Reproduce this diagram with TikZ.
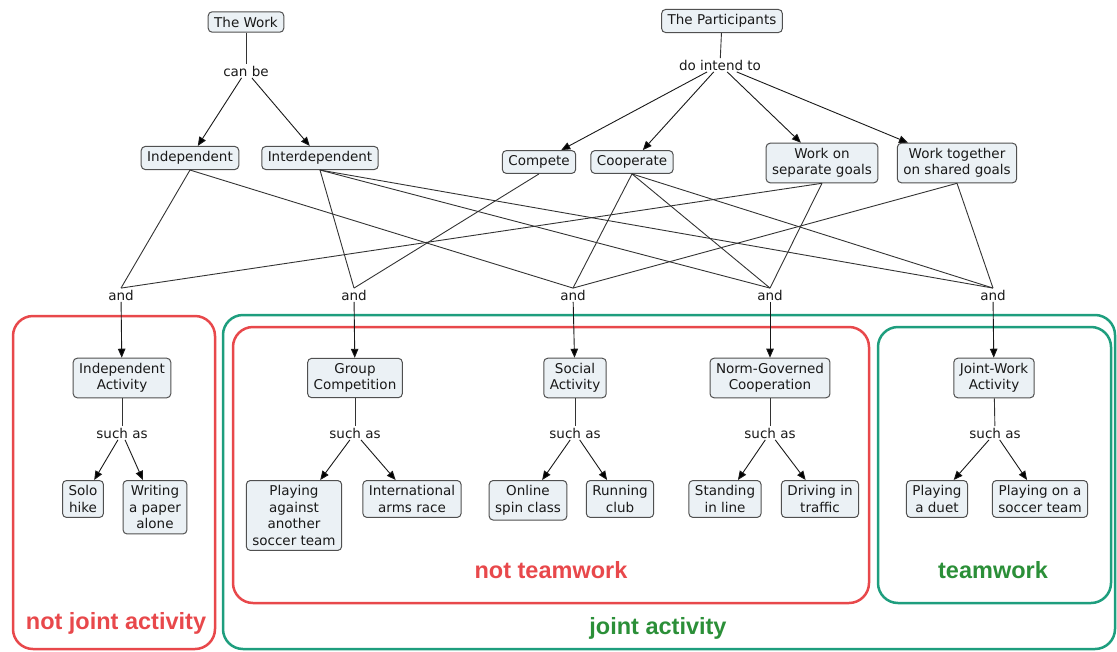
\documentclass[tikz,border=0pt]{standalone}
\usepackage{fontspec}
\setmainfont{DejaVu Sans}
\newfontfamily\labelfont{Liberation Sans}
\usepackage{xcolor}
\usepackage{tikz}
\usetikzlibrary{arrows, arrows.meta}
\definecolor{cmapred}{HTML}{E8484B}
\definecolor{cmapteal}{HTML}{1E9E7E}
\definecolor{cmapgreen}{HTML}{2B8F38}
\definecolor{conceptfill}{HTML}{EBF1F5}
\definecolor{conceptline}{HTML}{505050}

\begin{document}
\begin{tikzpicture}[x=1pt, y=-1pt]
\tikzstyle{concept}=[draw=conceptline, fill=conceptfill, rounded corners=4pt, align=center, inner xsep=6pt, inner ysep=5pt, font=\fontsize{13.5}{16.5}\selectfont, line width=1pt, text=black!90]
\tikzstyle{phrase}=[inner sep=1.5pt, font=\fontsize{13.5}{16.5}\selectfont, text=black!90]
\tikzstyle{link}=[draw=black!80, line width=0.9pt]
\tikzstyle{arrowlink}=[draw=black!90, line width=0.9pt, -{Triangle[length=9pt, width=7.5pt]}]
\tikzstyle{redgroup}=[draw=cmapred, line width=2.5pt, rounded corners=20pt]
\tikzstyle{tealgroup}=[draw=cmapteal, line width=2.5pt, rounded corners=20pt]
\tikzstyle{grouplabel}=[font=\labelfont\fontsize{23.5}{26}\selectfont\bfseries]

\useasboundingbox (0,0) rectangle (1117,651);

% group frames
\draw[redgroup] (13,316) rectangle (215,649);
\draw[tealgroup] (223,315) rectangle (1115,649);
\draw[redgroup] (233,327) rectangle (869,603);
\draw[tealgroup] (878,327) rectangle (1111,603);

\node[grouplabel, text=cmapred] (notjointlbl) at (116,623) {not joint activity};
\node[grouplabel, text=cmapgreen] (jointlbl) at (658,628) {joint activity};
\node[grouplabel, text=cmapred] (notteamlbl) at (551,570) {not teamwork};
\node[grouplabel, text=cmapgreen] (teamlbl) at (993,570) {teamwork};

% top level
\node[concept] (work) at (246,22) {The Work};
\node[phrase] (canbe) at (246,71) {can be};
\node[concept] (parts) at (722,21) {The Participants};
\node[phrase] (intend) at (720,65) {do intend to};

\node[concept] (indep) at (190,158) {Independent};
\node[concept] (interdep) at (320,158) {Interdependent};
\node[concept] (compete) at (539,162) {Compete};
\node[concept] (coop) at (632,162) {Cooperate};
\node[concept] (sepgoals) at (822,163) {Work on\\separate goals};
\node[concept] (sharedgoals) at (957,163) {Work together\\on shared goals};

\node[phrase] (and1) at (121,295) {and};
\node[phrase] (and2) at (354,295) {and};
\node[phrase] (and3) at (573,295) {and};
\node[phrase] (and4) at (770,295) {and};
\node[phrase] (and5) at (993,295) {and};

% activity types
\node[concept] (indact) at (122,378) {Independent\\Activity};
\node[concept] (groupcomp) at (355,378) {Group\\Competition};
\node[concept] (social) at (575,378) {Social\\Activity};
\node[concept] (normcoop) at (770,378) {Norm-Governed\\Cooperation};
\node[concept] (jointwork) at (994,378) {Joint-Work\\Activity};

\node[phrase] (such1) at (122,433) {such as};
\node[phrase] (such2) at (355,433) {such as};
\node[phrase] (such3) at (575,433) {such as};
\node[phrase] (such4) at (770,433) {such as};
\node[phrase] (such5) at (995,433) {such as};

% examples
\node[concept, anchor=north] (solo) at (83,480) {Solo\\hike};
\node[concept, anchor=north] (writing) at (155,480) {Writing\\a paper\\alone};
\node[concept, anchor=north] (playing) at (294,480) {Playing\\against\\another\\soccer team};
\node[concept, anchor=north] (arms) at (412,480) {International\\arms race};
\node[concept, anchor=north] (spin) at (528,480) {Online\\spin class};
\node[concept, anchor=north] (running) at (620,480) {Running\\club};
\node[concept, anchor=north] (standing) at (725,480) {Standing\\in line};
\node[concept, anchor=north] (driving) at (820,480) {Driving in\\traffic};
\node[concept, anchor=north] (duet) at (937,480) {Playing\\a duet};
\node[concept, anchor=north] (soccer) at (1040,480) {Playing on a\\soccer team};

\path[link]
(work) edge (canbe)
(parts) edge (intend);

\path[arrowlink]
(canbe) edge (indep)
        edge (interdep)
(intend) edge (compete)
         edge (coop)
         edge (sepgoals)
         edge (sharedgoals);

\path[link]
(indep.south) edge (and1.north)
              edge (and3.north)
(interdep.south) edge (and2.north)
                 edge (and4.north)
                 edge (and5.north)
(compete.south) edge (and2.north)
(coop.south) edge (and3.north)
             edge (and4.north)
             edge (and5.north)
(sepgoals.south) edge (and1.north)
                 edge (and4.north)
(sharedgoals.south) edge (and3.north)
                    edge (and5.north);

\path[arrowlink]
(and1) edge (indact)
(and2) edge (groupcomp)
(and3) edge (social)
(and4) edge (normcoop)
(and5) edge (jointwork);

\path[link]
(indact) edge (such1)
(groupcomp) edge (such2)
(social) edge (such3)
(normcoop) edge (such4)
(jointwork) edge (such5);

\path[arrowlink]
(such1) edge (solo)
        edge (writing)
(such2) edge (playing)
        edge (arms)
(such3) edge (spin)
        edge (running)
(such4) edge (standing)
        edge (driving)
(such5) edge (duet)
        edge (soccer);

\end{tikzpicture}
\end{document}
